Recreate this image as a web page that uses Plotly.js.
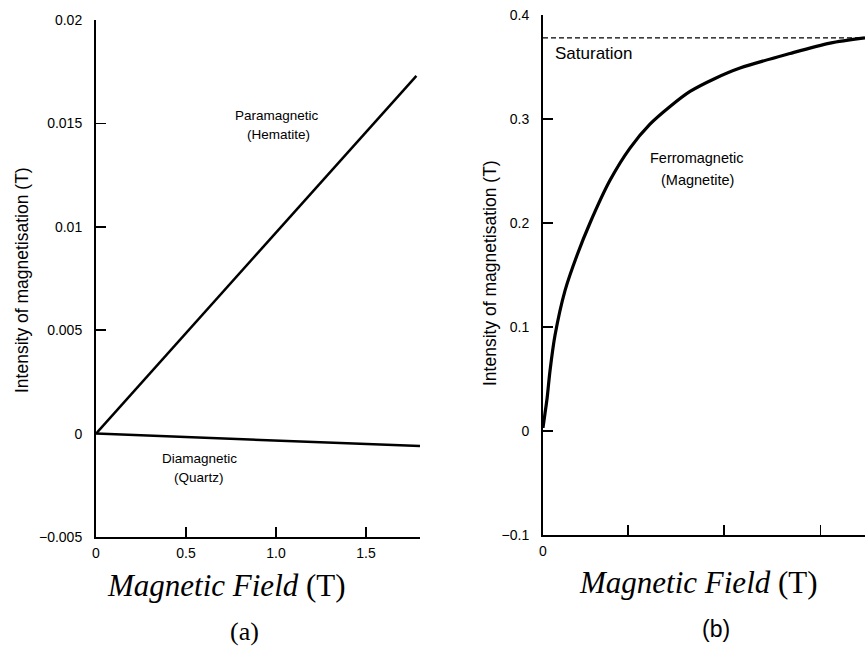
<!DOCTYPE html>
<html>
<head>
<meta charset="utf-8">
<script src="https://cdn.plot.ly/plotly-3.0.1.min.js"></script>
<style>html,body{margin:0;padding:0;background:#fff;}#chart{width:865px;height:648px;}</style>
</head>
<body>
<div id="chart"></div>
<script>
// Panel (a): linear magnetisation
const fieldA = [0, 1.78];
const paraHematite = [0, 0.0173];
const fieldDia = [0, 1.8];
const diaQuartz = [0, -0.0006];
const xTicksA = [0, 0.5, 1.0, 1.5];
const xTickTextA = ['0', '0.5', '1.0', '1.5'];
const yTicksA = [-0.005, 0, 0.005, 0.01, 0.015, 0.02];

// Panel (b): ferromagnetic curve
const fieldB = [0, 0.021, 0.042, 0.073, 0.125, 0.229, 0.354, 0.489, 0.697, 0.905, 1.113, 1.322, 1.53, 1.79, 2.05, 2.57, 2.986, 3.35];
const ferroMagnetite = [0.003, 0.017, 0.031, 0.058, 0.092, 0.135, 0.169, 0.2, 0.241, 0.272, 0.295, 0.312, 0.3265, 0.339, 0.349, 0.363, 0.373, 0.378];
const saturationField = [0, 3.35];
const saturationLevel = [0.378, 0.378];
const xTicksB = [0, 0.885, 1.885, 2.885];
const xTickTextB = ['0', '', '', ''];
const yTicksB = [-0.1, 0, 0.1, 0.2, 0.3, 0.4];

const lineStyle = {color: '#000', width: 2.5};
const traces = [
  {x: fieldA, y: paraHematite, xaxis: 'x', yaxis: 'y', mode: 'lines', line: lineStyle, hoverinfo: 'none'},
  {x: fieldDia, y: diaQuartz, xaxis: 'x', yaxis: 'y', mode: 'lines', line: lineStyle, hoverinfo: 'none'},
  {x: fieldB, y: ferroMagnetite, xaxis: 'x2', yaxis: 'y2', mode: 'lines', line: {color: '#000', width: 3.2, shape: 'spline', smoothing: 0.8}, hoverinfo: 'none'},
  {x: saturationField, y: saturationLevel, xaxis: 'x2', yaxis: 'y2', mode: 'lines', line: {color: '#000', width: 1.3, dash: '5px,3px'}, hoverinfo: 'none'}
];

const tickFont = {family: 'Liberation Sans, Arial, sans-serif', size: 14, color: '#000'};
const baseAxis = {
  showline: true, linecolor: '#000', linewidth: 2, mirror: false,
  showgrid: false, zeroline: false,
  ticks: 'inside', ticklen: 10, tickwidth: 1.5, tickcolor: '#000',
  tickfont: tickFont, fixedrange: true
};

const labelFont = {family: 'Liberation Sans, Arial, sans-serif', size: 13.5, color: '#000'};
const ferroFont = {family: 'Liberation Sans, Arial, sans-serif', size: 14.5, color: '#000'};
const satFont = {family: 'Liberation Sans, Arial, sans-serif', size: 17, color: '#000'};
const yTitleFont = {family: 'Liberation Sans, Arial, sans-serif', size: 17.5, color: '#000'};
const titleFont = {family: 'Liberation Serif, Times New Roman, serif', size: 31, color: '#000'};
const capAFont = {family: 'Liberation Serif, Times New Roman, serif', size: 26, color: '#000'};
const capBFont = {family: 'Liberation Sans, Arial, sans-serif', size: 23, color: '#000'};

function ann(text, px, py, font, extra) {
  return Object.assign({text: text, xref: 'paper', yref: 'paper', x: px/865, y: 1 - py/648,
    xanchor: 'center', yanchor: 'middle', showarrow: false, font: font, align: 'center'}, extra || {});
}

const layout = {
  width: 865, height: 648,
  margin: {l: 0, r: 0, t: 0, b: 0},
  paper_bgcolor: '#fff', plot_bgcolor: '#fff',
  showlegend: false,
  xaxis: Object.assign({}, baseAxis, {domain: [96/865, 420/865], range: [0, 1.8], tickvals: xTicksA, ticktext: xTickTextA, anchor: 'y', ticklabelstandoff: 2}),
  yaxis: Object.assign({}, baseAxis, {domain: [(648-537)/648, (648-20)/648], range: [-0.005, 0.02], tickvals: yTicksA, anchor: 'x', ticklabelstandoff: 9}),
  xaxis2: Object.assign({}, baseAxis, {domain: [543/865, 1], range: [0, 3.35], tickvals: xTicksB, ticktext: xTickTextB, anchor: 'y2', ticklabelstandoff: 2}),
  yaxis2: Object.assign({}, baseAxis, {domain: [(648-535)/648, (648-15)/648], range: [-0.1, 0.4], tickvals: yTicksB, anchor: 'x2', ticklabelstandoff: 9}),
  annotations: [
    ann('Paramagnetic', 277, 115, labelFont),
    ann('(Hematite)', 278, 134, labelFont),
    ann('Diamagnetic', 199, 458, labelFont),
    ann('(Quartz)', 199, 478, labelFont),
    ann('Saturation', 553, 53, satFont, {xanchor: 'left'}),
    ann('Ferromagnetic', 696, 158, ferroFont),
    ann('(Magnetite)', 697, 180, ferroFont),
    ann('Intensity of magnetisation (T)', 22, 280, yTitleFont, {textangle: -90}),
    ann('Intensity of magnetisation (T)', 490, 273, yTitleFont, {textangle: -90}),
    ann('<i>Magnetic Field</i> (T)', 227, 585, titleFont),
    ann('<i>Magnetic Field</i> (T)', 698, 582, titleFont),
    ann('(a)', 244, 631, capAFont),
    ann('(b)', 716, 629, capBFont)
  ]
};

Plotly.newPlot('chart', traces, layout, {displayModeBar: false, staticPlot: true});
</script>
</body>
</html>
